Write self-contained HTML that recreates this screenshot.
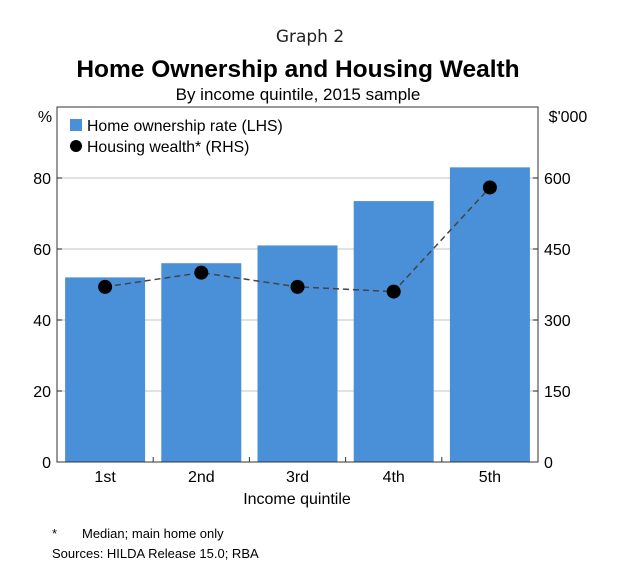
<!DOCTYPE html>
<html><head><meta charset="utf-8"><style>
body{margin:0;background:#fff;width:621px;height:582px;overflow:hidden;font-family:"Liberation Sans",sans-serif}
</style></head><body>
<svg width="621" height="582" font-family="Liberation Sans, sans-serif">
<text x="310" y="42" text-anchor="middle" font-size="17" fill="#222" font-family="DejaVu Sans, sans-serif">Graph 2</text>
<text x="298" y="77" text-anchor="middle" font-size="24.5" font-weight="bold" fill="#000">Home Ownership and Housing Wealth</text>
<text x="298" y="100" text-anchor="middle" font-size="17" fill="#000">By income quintile, 2015 sample</text>
<g id="grid"></g>
<g id="bars"></g>
<g id="line"></g>
<rect x="57" y="107" width="481" height="355" fill="none" stroke="#333" stroke-width="1"/>
<g id="axes" font-size="16" fill="#000"></g>
<text x="45" y="122" text-anchor="middle" font-size="16">%</text>
<text x="568" y="122" text-anchor="middle" font-size="16">$'000</text>
<g>
<rect x="70" y="119" width="12" height="12" fill="#4a90d9"/>
<text x="87" y="131" font-size="15.8">Home ownership rate (LHS)</text>
<circle cx="76" cy="146" r="6" fill="#000"/>
<text x="87" y="152" font-size="15.8">Housing wealth* (RHS)</text>
</g>
<text x="297" y="504" text-anchor="middle" font-size="16">Income quintile</text>
<text x="52" y="538" font-size="13">*</text>
<text x="82" y="538" font-size="13">Median; main home only</text>
<text x="52" y="558" font-size="13">Sources:  HILDA Release 15.0; RBA</text>
</svg>
<script>
const categories=["1st","2nd","3rd","4th","5th"];
const ownership=[52,56,61,73.5,83];
const wealth=[370,400,370,360,580];
const leftTicks=[0,20,40,60,80];
const rightTicks=[0,150,300,450,600];
const NS="http://www.w3.org/2000/svg";
const X0=57,X1=538,Y0=462,YT=107;
const yL=v=>Y0-(v/100)*(Y0-YT);
const yR=v=>Y0-(v/750)*(Y0-YT);
const band=(X1-X0)/categories.length;
const xc=i=>X0+band*(i+0.5);
function mk(tag,attrs,parent){const e=document.createElementNS(NS,tag);for(const k in attrs)e.setAttribute(k,attrs[k]);document.getElementById(parent).appendChild(e);return e;}
leftTicks.forEach((t,i)=>{
  if(t>0){const g=mk('line',{x1:X0,x2:X1,y1:yL(t),y2:yL(t),stroke:'#d8d8d8','stroke-width':1.5},'grid');
  
  }
  const l=mk('text',{x:X0-6,y:yL(t)+6,'text-anchor':'end'},'axes');l.textContent=t;
  
  
  const tk=mk('line',{x1:X0,x2:X0+5,y1:yL(t),y2:yL(t),stroke:'#333'},'axes');
  
  
});
rightTicks.forEach(t=>{
  const l=mk('text',{x:X1+6,y:yR(t)+6,'text-anchor':'start'},'axes');l.textContent=t;
  
  
  const tk=mk('line',{x1:X1-5,x2:X1,y1:yR(t),y2:yR(t),stroke:'#333'},'axes');
  
  
});
categories.forEach((c,i)=>{
  const b=mk('rect',{x:xc(i)-40,y:yL(ownership[i]),width:80,height:Y0-yL(ownership[i]),fill:'#4a90d9'},'bars');
  
  
  const l=mk('text',{x:xc(i),y:482,'text-anchor':'middle'},'axes');l.textContent=c;
  
  
  if(i>0){const tk=mk('line',{x1:X0+band*i,x2:X0+band*i,y1:Y0,y2:Y0-5,stroke:'#333'},'axes');
  
  }
});
const pl=mk('polyline',{points:wealth.map((v,i)=>xc(i)+','+yR(v)).join(' '),fill:'none',stroke:'#444','stroke-width':1.5,'stroke-dasharray':'6,4'},'line');


wealth.forEach((v,i)=>{
  const p=mk('circle',{cx:xc(i),cy:yR(v),r:7,fill:'#000'},'line');
  
  
});
</script>
</body></html>
